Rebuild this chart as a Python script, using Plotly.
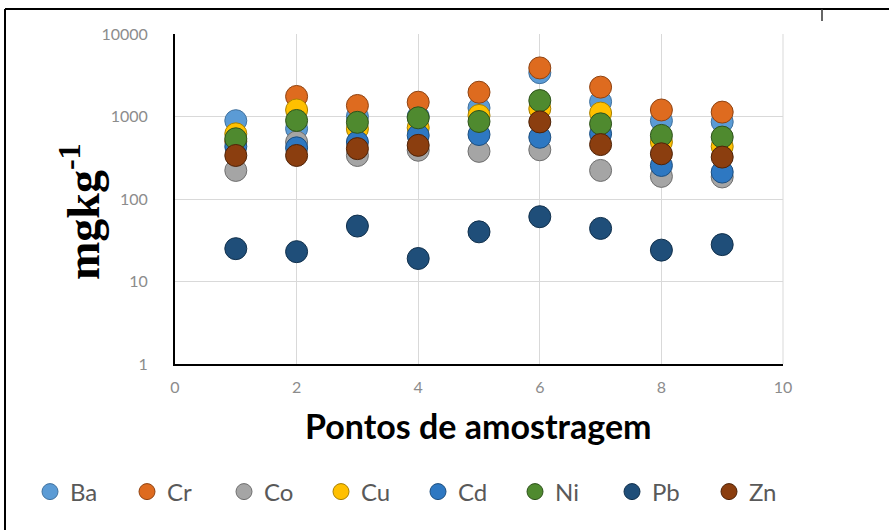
import plotly.graph_objects as go

# Sampling points and metal concentrations (mg kg-1)
pontos = [1, 2, 3, 4, 5, 6, 7, 8, 9]

ba = [890, 710, 1000, 1000, 1270, 3400, 1510, 890, 860]
cr = [500, 1750, 1360, 1490, 1970, 3880, 2270, 1200, 1130]
co = [222, 490, 337, 390, 378, 395, 222, 188, 185]
cu = [617, 1200, 707, 730, 1030, 1240, 1100, 490, 433]
cd = [433, 417, 490, 590, 605, 560, 617, 255, 212]
ni = [537, 895, 850, 964, 870, 1560, 815, 590, 563]
pb = [25, 23, 47, 19, 40, 61, 44, 24, 28]
zn = [337, 337, 408, 447, None, 860, 457, 353, 322]

series = [
    ("Ba", ba, "#5B9BD5", "#41729f"),
    ("Cr", cr, "#DE6B1F", "#8f4312"),
    ("Co", co, "#A5A5A5", "#6f6f6f"),
    ("Cu", cu, "#FFC000", "#a88000"),
    ("Cd", cd, "#2E78C2", "#1d4f80"),
    ("Ni", ni, "#4F8A2F", "#2f531c"),
    ("Pb", pb, "#1F4E79", "#11304c"),
    ("Zn", zn, "#8B3E0F", "#4f2308"),
]

fig = go.Figure()
for name, vals, fill, edge in series:
    fig.add_trace(go.Scatter(
        x=pontos, y=vals, mode="markers", name=name,
        marker=dict(size=22, color=fill, line=dict(color=edge, width=1)),
    ))

W, H = 889, 530
L, R, T, B = 175, 106, 34, 166
pw, ph = W - L - R, H - T - B


def px(xpix):
    return (xpix - L) / pw


def py(ypix):
    return (H - B - ypix) / ph


tick_font = dict(family="Lato, Open Sans, sans-serif", size=16, color="#8c8c8c")

fig.update_layout(
    width=W, height=H,
    margin=dict(l=L, r=R, t=T, b=B),
    paper_bgcolor="white", plot_bgcolor="white",
    showlegend=True,
    legend=dict(
        orientation="h", x=px(30), y=py(492), xanchor="left", yanchor="middle",
        font=dict(family="Lato, Open Sans, sans-serif", size=24, color="#595959"),
        itemsizing="trace", entrywidth=52, entrywidthmode="pixels",
        traceorder="normal",
    ),
    xaxis=dict(
        range=[0, 10], dtick=2, tick0=0,
        showgrid=True, gridcolor="#d9d9d9", gridwidth=1,
        showline=True, linecolor="black", linewidth=2,
        zeroline=False, ticks="", tickfont=tick_font, ticklabelstandoff=8,
        mirror=False,
    ),
    yaxis=dict(
        type="log", range=[0, 4], dtick=1,
        tickvals=[1, 10, 100, 1000, 10000],
        ticktext=["1", "10", "100", "1000", "10000"],
        showgrid=True, gridcolor="#d9d9d9", gridwidth=1,
        showline=True, linecolor="black", linewidth=2,
        zeroline=False, ticks="", tickfont=tick_font, ticklabelstandoff=22,
    ),
    annotations=[
        dict(
            text="Pontos de amostragem", xref="paper", yref="paper",
            x=px(478), y=py(425), xanchor="center", yanchor="middle",
            showarrow=False,
            font=dict(family="Lato, Open Sans, sans-serif", size=34, color="black", weight="bold"),
        ),
        dict(
            text="mgkg<sup>-1</sup>", xref="paper", yref="paper",
            x=px(80), y=py(212), xanchor="center", yanchor="middle",
            showarrow=False, textangle=-90,
            font=dict(family="Liberation Serif, serif", size=46, color="black", weight="bold"),
        ),
    ],
    shapes=[
        # outer frame lines
        dict(type="line", xref="paper", yref="paper",
             x0=px(5), x1=px(889), y0=py(9), y1=py(9),
             line=dict(color="black", width=2)),
        dict(type="line", xref="paper", yref="paper",
             x0=px(5), x1=px(5), y0=py(9), y1=py(530),
             line=dict(color="black", width=2)),
        dict(type="line", xref="paper", yref="paper",
             x0=px(822), x1=px(822), y0=py(9), y1=py(21),
             line=dict(color="#333333", width=1.5)),
        # right plot border
        dict(type="line", xref="paper", yref="paper",
             x0=1, x1=1, y0=0, y1=1,
             line=dict(color="#d9d9d9", width=1)),
    ],
)

fig.write_html("out.html")
